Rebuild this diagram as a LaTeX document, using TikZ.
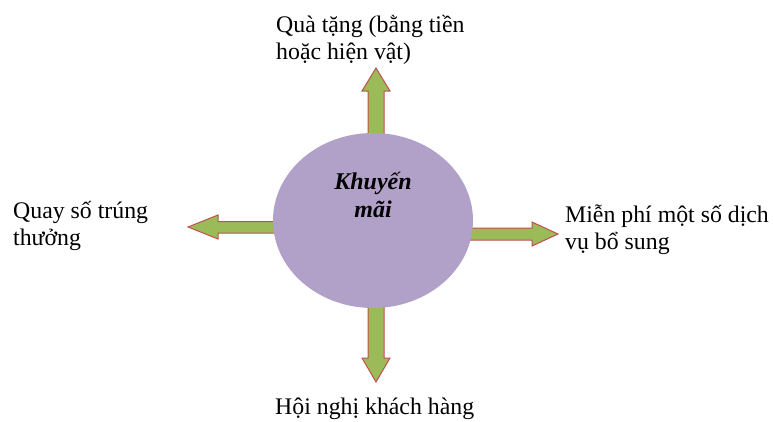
\documentclass[tikz,border=0pt]{standalone}
\usepackage{fontspec}
\setmainfont{Liberation Serif}
\usetikzlibrary{shapes.geometric}
\definecolor{lav}{HTML}{B1A0C7}
\definecolor{agreen}{HTML}{9BBB59}
\definecolor{ared}{HTML}{C0504D}
\begin{document}
\begin{tikzpicture}[x=1pt,y=-1pt,
  blockarrow/.style={fill=agreen,draw=ared,line width=1pt,line join=miter},
  lbl/.style={inner sep=0pt,align=left,font=\fontsize{23.8}{27}\selectfont},
  hub/.style={ellipse,fill=lav,draw=none,minimum width=200pt,minimum height=175pt,inner sep=0pt}]
\useasboundingbox (0,0) rectangle (773,421);
% arrows (drawn first, ellipse on top)
\draw[blockarrow] (368,140) -- (368,91) -- (362,91) -- (376,68) -- (390,91) -- (384,91) -- (384,140) -- cycle;
\draw[blockarrow] (368,300) -- (368,358) -- (362,358) -- (376,382) -- (390,358) -- (384,358) -- (384,300) -- cycle;
\draw[blockarrow] (280,221.5) -- (218,221.5) -- (218,215) -- (188,227) -- (218,239) -- (218,233) -- (280,233) -- cycle;
\draw[blockarrow] (465,228) -- (532,228) -- (532,222) -- (558,234) -- (532,246) -- (532,240) -- (465,240) -- cycle;
\node[hub] (c) at (373,220.5) {};
\node[inner sep=0pt,align=center,font=\fontsize{24}{28}\selectfont\bfseries\itshape,anchor=base] (t) at (373,217.3) {Khuyến\\mãi};
\node[lbl,anchor=base west] (top) at (276,59.5) {Quà tặng (bằng tiền\\hoặc hiện vật)};
\node[lbl,anchor=base west] (left) at (13,245) {Quay số trúng\\thưởng};
\node[lbl,anchor=base west] (right) at (565,249.3) {Miễn phí một số dịch\\vụ bổ sung};
\node[lbl,anchor=base west] (bot) at (275,414) {Hội nghị khách hàng};
\end{tikzpicture}
\end{document}
